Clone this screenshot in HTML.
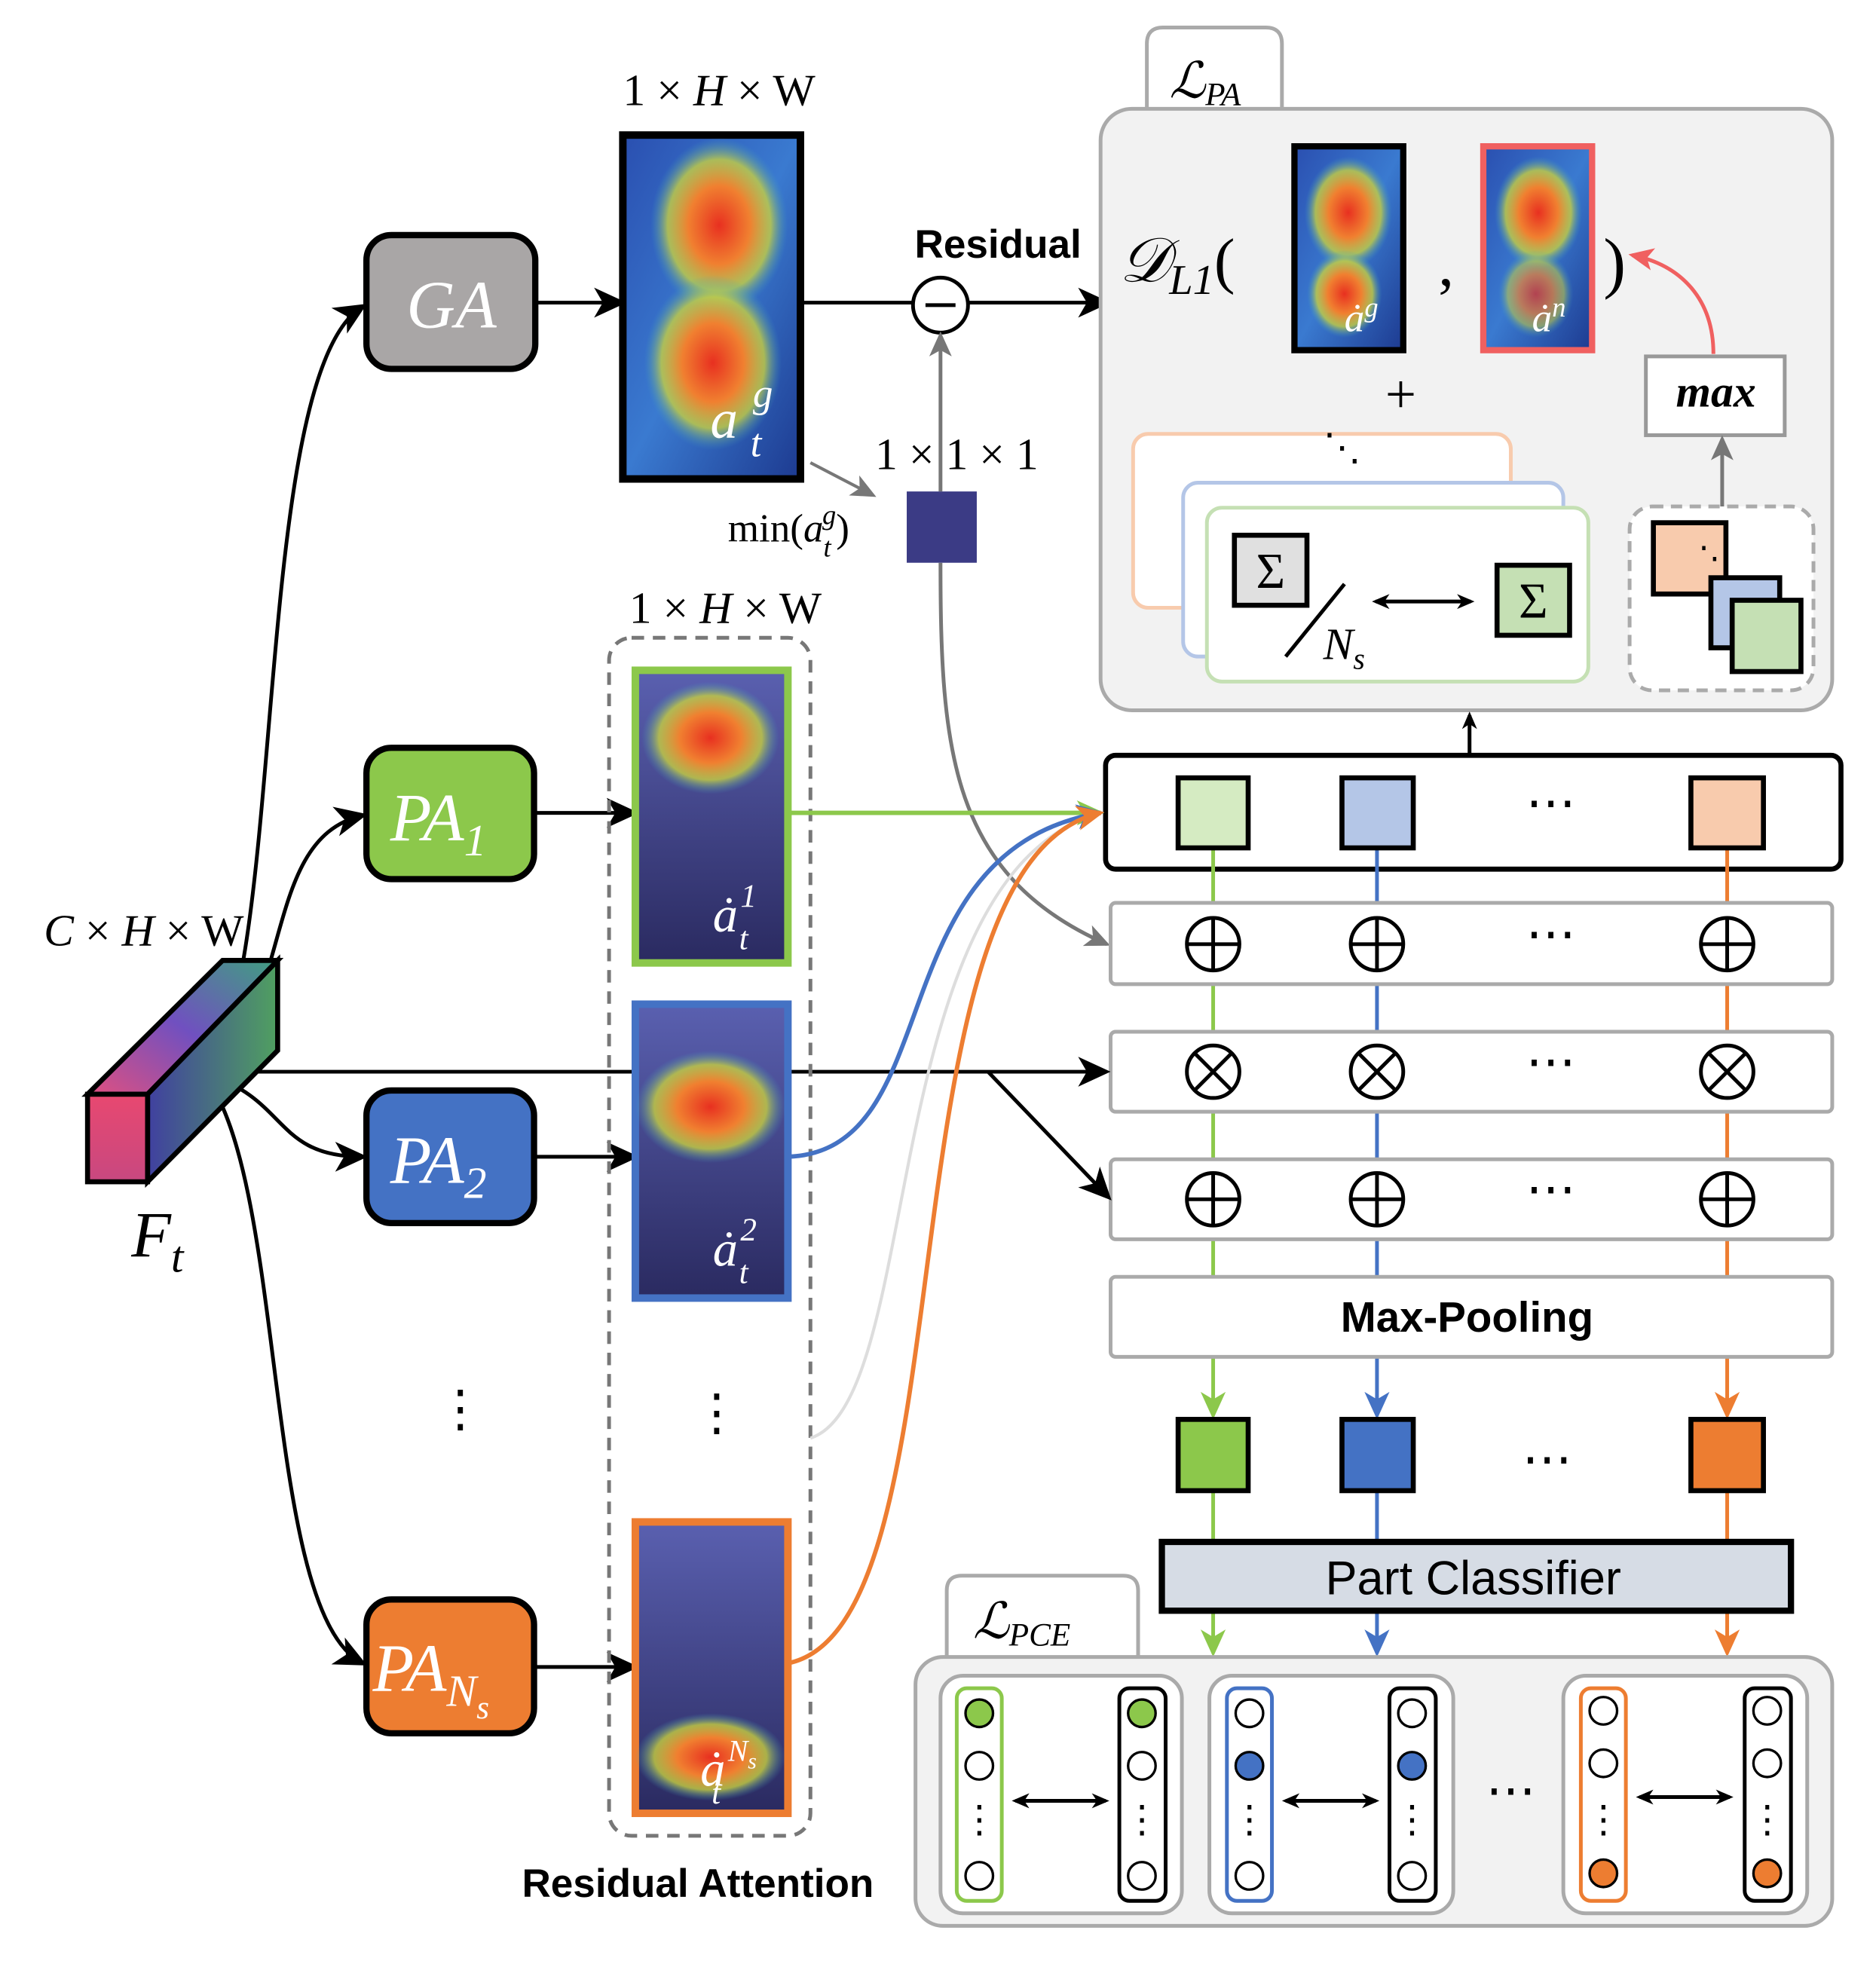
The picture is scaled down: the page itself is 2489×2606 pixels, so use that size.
<!DOCTYPE html>
<html><head><meta charset="utf-8">
<style>
html,body{margin:0;padding:0;background:#fff;}
svg{display:block;}
.s{font-family:"Liberation Serif",serif;}
.a{font-family:"Liberation Sans","DejaVu Sans",sans-serif;}
</style></head>
<body>
<svg width="2489" height="2606" viewBox="0 0 1500 1570.5" preserveAspectRatio="none" xmlns="http://www.w3.org/2000/svg">
<defs>
<marker id="ak" markerWidth="14" markerHeight="14" refX="11" refY="7" orient="auto-start-reverse" markerUnits="userSpaceOnUse" viewBox="0 0 14 14"><path d="M0,1 L14,7 L0,13 L4,7z" fill="#000"/></marker>
<marker id="akb" markerWidth="26" markerHeight="26" refX="22" refY="13" orient="auto" markerUnits="userSpaceOnUse" viewBox="0 0 26 26"><path d="M0,1 L26,13 L0,25 L7,13z" fill="#000"/></marker>
<marker id="ag" markerWidth="20" markerHeight="20" refX="17" refY="10" orient="auto" markerUnits="userSpaceOnUse" viewBox="0 0 20 20"><path d="M0,1 L20,10 L0,19 L5,10z" fill="#777"/></marker>
<marker id="ar" markerWidth="20" markerHeight="20" refX="17" refY="10" orient="auto" markerUnits="userSpaceOnUse" viewBox="0 0 20 20"><path d="M0,1 L20,10 L0,19 L5,10z" fill="#f06060"/></marker>
<marker id="agr" markerWidth="22" markerHeight="22" refX="19" refY="11" orient="auto" markerUnits="userSpaceOnUse" viewBox="0 0 22 22"><path d="M0,1 L22,11 L0,21 L6,11z" fill="#8cc84b"/></marker>
<marker id="abl" markerWidth="22" markerHeight="22" refX="19" refY="11" orient="auto" markerUnits="userSpaceOnUse" viewBox="0 0 22 22"><path d="M0,1 L22,11 L0,21 L6,11z" fill="#4472c4"/></marker>
<marker id="aor" markerWidth="22" markerHeight="22" refX="19" refY="11" orient="auto" markerUnits="userSpaceOnUse" viewBox="0 0 22 22"><path d="M0,1 L22,11 L0,21 L6,11z" fill="#ed7d31"/></marker>
<linearGradient id="hm" x1="0" y1="0" x2="1" y2="1"><stop offset="0" stop-color="#2a4fb0"/><stop offset="0.5" stop-color="#3a7ad0"/><stop offset="1" stop-color="#1d3a90"/></linearGradient>
<radialGradient id="hot"><stop offset="0" stop-color="#e83020"/><stop offset="0.45" stop-color="#f08030"/><stop offset="0.75" stop-color="#c8d040" stop-opacity="0.8"/><stop offset="1" stop-color="#40a0c0" stop-opacity="0"/></radialGradient>
<linearGradient id="pb" x1="0" y1="0" x2="0" y2="1"><stop offset="0" stop-color="#5a60b0"/><stop offset="1" stop-color="#2a2a60"/></linearGradient>
<linearGradient id="ff" x1="0" y1="0" x2="0" y2="1"><stop offset="0" stop-color="#e84870"/><stop offset="1" stop-color="#c84880"/></linearGradient>
<linearGradient id="ft" x1="0" y1="1" x2="1" y2="0"><stop offset="0" stop-color="#e05080"/><stop offset="0.5" stop-color="#7050c0"/><stop offset="1" stop-color="#40a080"/></linearGradient>
<linearGradient id="fs" x1="0" y1="0" x2="1" y2="0"><stop offset="0" stop-color="#4040a0"/><stop offset="1" stop-color="#50a060"/></linearGradient>
</defs>

<text x="575" y="84" class="s" font-size="36" text-anchor="middle">1 × <tspan font-style="italic">H</tspan> × W</text>
<text x="580" y="498" class="s" font-size="36" text-anchor="middle">1 × <tspan font-style="italic">H</tspan> × W</text>
<text x="115" y="756" class="s" font-size="36" text-anchor="middle"><tspan font-style="italic">C</tspan> × <tspan font-style="italic">H</tspan> × W</text>

<rect x="293" y="188" width="135" height="107" rx="20" fill="#a9a6a6" stroke="#000" stroke-width="5"/>
<text x="361" y="262" class="s" font-size="54" font-style="italic" fill="#fff" text-anchor="middle">GA</text>
<line x1="428" y1="242" x2="497" y2="242" stroke="#000" stroke-width="3" marker-end="url(#akb)"/>

<rect x="498" y="108" width="142" height="275" fill="url(#hm)" stroke="#000" stroke-width="6"/>
<ellipse cx="575" cy="180" rx="55" ry="70" fill="url(#hot)"/>
<ellipse cx="570" cy="290" rx="55" ry="70" fill="url(#hot)"/>
<text x="568" y="350" class="s" font-size="44" font-style="italic" fill="#fff">a</text>
<text x="602" y="325" class="s" font-size="32" font-style="italic" fill="#fff">g</text>
<text x="600" y="365" class="s" font-size="32" font-style="italic" fill="#fff">t</text>

<line x1="640" y1="242" x2="730" y2="242" stroke="#000" stroke-width="3"/>
<line x1="774" y1="242" x2="884" y2="242" stroke="#000" stroke-width="3" marker-end="url(#akb)"/>
<circle cx="752" cy="244" r="22" fill="#fff" stroke="#000" stroke-width="3"/>
<line x1="740" y1="244" x2="764" y2="244" stroke="#000" stroke-width="3"/>
<text x="798" y="206" class="a" font-size="32" font-weight="bold" text-anchor="middle">Residual</text>
<text x="765" y="375" class="s" font-size="36" text-anchor="middle">1 × 1 × 1</text>
<rect x="725" y="393" width="56" height="57" fill="#3b3b85"/>
<line x1="752" y1="393" x2="752" y2="268" stroke="#777" stroke-width="3" marker-end="url(#ag)"/>
<text x="582" y="433" class="s" font-size="32">min(<tspan font-style="italic">a</tspan><tspan font-size="22" font-style="italic" dy="12">t</tspan><tspan font-size="22" font-style="italic" dx="-7" dy="-26">g</tspan><tspan dy="14">)</tspan></text>
<line x1="648" y1="370" x2="698" y2="396" stroke="#777" stroke-width="2.5" marker-end="url(#ag)"/>
<path d="M752,450 C752,600 760,700 885,755" fill="none" stroke="#777" stroke-width="3" marker-end="url(#ag)"/>

<path d="M917,90 L917,35 Q917,22 930,22 L1012,22 Q1025,22 1025,35 L1025,90" fill="#fff" stroke="#aaa" stroke-width="3"/>
<text x="935" y="78" class="s" font-size="40" font-style="italic">ℒ<tspan font-size="26" dy="6">PA</tspan></text>
<rect x="880" y="87" width="585" height="481" rx="25" fill="#f2f2f2" stroke="#aaa" stroke-width="3"/>
<text x="895" y="225" class="s" font-size="50" font-style="italic">𝒟<tspan font-size="34" dy="10">L1</tspan><tspan dy="-10" font-style="normal">(</tspan></text>
<rect x="1035" y="117" width="87" height="163" fill="url(#hm)" stroke="#000" stroke-width="5"/>
<ellipse cx="1078" cy="170" rx="35" ry="45" fill="url(#hot)"/>
<ellipse cx="1075" cy="235" rx="30" ry="35" fill="url(#hot)"/>
<text x="1075" y="265" class="s" font-size="32" font-style="italic" fill="#fff">ȧ<tspan font-size="22" dy="-12">g</tspan></text>
<text x="1150" y="228" class="s" font-size="50">,</text>
<rect x="1186" y="117" width="87" height="163" fill="url(#hm)" stroke="#f06060" stroke-width="5"/>
<ellipse cx="1230" cy="170" rx="35" ry="45" fill="url(#hot)"/>
<ellipse cx="1228" cy="235" rx="30" ry="35" fill="url(#hot)" opacity="0.7"/>
<text x="1225" y="265" class="s" font-size="32" font-style="italic" fill="#fff">ȧ<tspan font-size="22" dy="-12">n</tspan></text>
<text x="1282" y="228" class="s" font-size="54">)</text>
<text x="1120" y="330" class="s" font-size="44" text-anchor="middle">+</text>
<rect x="1316" y="285" width="111" height="63" fill="#fff" stroke="#999" stroke-width="3"/>
<text x="1372" y="325" class="s" font-size="36" font-style="italic" font-weight="bold" text-anchor="middle">max</text>
<path d="M1370,283 C1370,240 1345,212 1305,204" fill="none" stroke="#f06060" stroke-width="3" marker-end="url(#ar)"/>
<line x1="1377" y1="405" x2="1377" y2="351" stroke="#777" stroke-width="3" marker-end="url(#ag)"/>

<rect x="906" y="347" width="302" height="139" rx="12" fill="#fff" stroke="#f8cbad" stroke-width="3"/>
<rect x="946" y="386" width="304" height="139" rx="12" fill="#fff" stroke="#b4c6e7" stroke-width="3"/>
<rect x="965" y="406" width="305" height="139" rx="12" fill="#fff" stroke="#c5e0b4" stroke-width="3"/>
<text x="1058" y="368" class="s" font-size="30">⋱</text>
<rect x="987" y="428" width="58" height="56" fill="#e0e0e0" stroke="#000" stroke-width="4"/>
<text x="1016" y="470" class="s" font-size="40" text-anchor="middle">Σ</text>
<line x1="1028" y1="525" x2="1075" y2="467" stroke="#000" stroke-width="3"/>
<text x="1058" y="527" class="s" font-size="36" font-style="italic">N<tspan font-size="24" dy="8">s</tspan></text>
<line x1="1100" y1="481" x2="1176" y2="481" stroke="#000" stroke-width="3" marker-end="url(#ak)" marker-start="url(#ak)"/>
<rect x="1197" y="452" width="58" height="56" fill="#c5e0b4" stroke="#000" stroke-width="4"/>
<text x="1226" y="494" class="s" font-size="40" text-anchor="middle">Σ</text>

<rect x="1303" y="405" width="147" height="147" rx="18" fill="#fff" stroke="#aaa" stroke-width="3" stroke-dasharray="9,6"/>
<rect x="1322" y="418" width="58" height="57" fill="#f8cbad" stroke="#000" stroke-width="4"/>
<rect x="1368" y="462" width="55" height="56" fill="#b4c6e7" stroke="#000" stroke-width="4"/>
<rect x="1385" y="480" width="55" height="57" fill="#c5e0b4" stroke="#000" stroke-width="4"/>
<text x="1358" y="455" class="s" font-size="26">⋱</text>

<line x1="1175" y1="603" x2="1175" y2="572" stroke="#000" stroke-width="3" marker-end="url(#ak)"/>

<rect x="884" y="604" width="588" height="91" rx="8" fill="#fff" stroke="#000" stroke-width="4"/>
<g stroke="#8cc84b" stroke-width="3"><line x1="970" y1="678" x2="970" y2="1132" marker-end="url(#agr)"/><line x1="970" y1="1192" x2="970" y2="1233"/><line x1="970" y1="1288" x2="970" y2="1322" marker-end="url(#agr)"/></g>
<g stroke="#4472c4" stroke-width="3"><line x1="1101" y1="678" x2="1101" y2="1132" marker-end="url(#abl)"/><line x1="1101" y1="1192" x2="1101" y2="1233"/><line x1="1101" y1="1288" x2="1101" y2="1322" marker-end="url(#abl)"/></g>
<g stroke="#ed7d31" stroke-width="3"><line x1="1381" y1="678" x2="1381" y2="1132" marker-end="url(#aor)"/><line x1="1381" y1="1192" x2="1381" y2="1233"/><line x1="1381" y1="1288" x2="1381" y2="1322" marker-end="url(#aor)"/></g>
<rect x="942" y="622" width="56" height="56" fill="#d5ebc2" stroke="#000" stroke-width="4"/>
<rect x="1073" y="622" width="57" height="56" fill="#b4c6e7" stroke="#000" stroke-width="4"/>
<rect x="1352" y="622" width="58" height="56" fill="#f8cbad" stroke="#000" stroke-width="4"/>
<text x="1240" y="655" class="s" font-size="40" text-anchor="middle">⋯</text>

<g fill="#fff" stroke="#aaa" stroke-width="3">
<rect x="888" y="722" width="577" height="65" rx="4"/>
<rect x="888" y="825" width="577" height="64" rx="4"/>
<rect x="888" y="927" width="577" height="64" rx="4"/>
<rect x="888" y="1021" width="577" height="64" rx="4"/>
</g>
<g font-size="40" class="s" text-anchor="middle">
<g stroke="#000" stroke-width="3" fill="none">
<circle cx="970" cy="755" r="21"/><circle cx="1101" cy="755" r="21"/><circle cx="1381" cy="755" r="21"/>
<path d="M949,755h42M970,734v42M1080,755h42M1101,734v42M1360,755h42M1381,734v42"/>
<circle cx="970" cy="857" r="21"/><circle cx="1101" cy="857" r="21"/><circle cx="1381" cy="857" r="21"/>
<path d="M955,842l30,30M985,842l-30,30M1086,842l30,30M1116,842l-30,30M1366,842l30,30M1396,842l-30,30"/>
<circle cx="970" cy="959" r="21"/><circle cx="1101" cy="959" r="21"/><circle cx="1381" cy="959" r="21"/>
<path d="M949,959h42M970,938v42M1080,959h42M1101,938v42M1360,959h42M1381,938v42"/>
</g>
<text x="1240" y="760">⋯</text><text x="1240" y="862">⋯</text><text x="1240" y="964">⋯</text>
</g>
<text x="1173" y="1065" class="a" font-size="34" font-weight="bold" text-anchor="middle">Max-Pooling</text>

<rect x="942" y="1135" width="56" height="57" fill="#8cc84b" stroke="#000" stroke-width="4"/>
<rect x="1073" y="1135" width="57" height="57" fill="#4472c4" stroke="#000" stroke-width="4"/>
<rect x="1352" y="1135" width="58" height="57" fill="#ed7d31" stroke="#000" stroke-width="4"/>
<text x="1237" y="1180" class="s" font-size="40" text-anchor="middle">⋯</text>

<rect x="929" y="1233" width="503" height="55" fill="#d6dce5" stroke="#000" stroke-width="5"/>
<text x="1178" y="1275" class="a" font-size="38" text-anchor="middle">Part Classifier</text>

<path d="M757,1325 L757,1272 Q757,1260 769,1260 L898,1260 Q910,1260 910,1272 L910,1325" fill="#fff" stroke="#aaa" stroke-width="3"/>
<text x="778" y="1310" class="s" font-size="40" font-style="italic">ℒ<tspan font-size="26" dy="6">PCE</tspan></text>
<rect x="732" y="1325" width="733" height="215" rx="22" fill="#f2f2f2" stroke="#aaa" stroke-width="3"/>
<g fill="#fff" stroke="#aaa" stroke-width="3">
<rect x="752" y="1340" width="193" height="190" rx="18"/>
<rect x="967" y="1340" width="195" height="190" rx="18"/>
<rect x="1250" y="1340" width="195" height="190" rx="18"/>
</g>
<g stroke-width="3" fill="none">
<rect x="765" y="1350" width="36" height="170" rx="8" stroke="#8cc84b"/>
<rect x="895" y="1350" width="37" height="170" rx="8" stroke="#000"/>
<rect x="981" y="1350" width="36" height="170" rx="8" stroke="#4472c4"/>
<rect x="1111" y="1350" width="37" height="170" rx="8" stroke="#000"/>
<rect x="1264" y="1350" width="36" height="170" rx="8" stroke="#ed7d31"/>
<rect x="1395" y="1350" width="37" height="170" rx="8" stroke="#000"/>
</g>
<g stroke="#000" stroke-width="2">
<circle cx="783" cy="1370" r="11" fill="#8cc84b"/><circle cx="783" cy="1412" r="11" fill="#fff"/><circle cx="783" cy="1500" r="11" fill="#fff"/>
<circle cx="913" cy="1370" r="11" fill="#8cc84b"/><circle cx="913" cy="1412" r="11" fill="#fff"/><circle cx="913" cy="1500" r="11" fill="#fff"/>
<circle cx="999" cy="1370" r="11" fill="#fff"/><circle cx="999" cy="1412" r="11" fill="#4472c4"/><circle cx="999" cy="1500" r="11" fill="#fff"/>
<circle cx="1129" cy="1370" r="11" fill="#fff"/><circle cx="1129" cy="1412" r="11" fill="#4472c4"/><circle cx="1129" cy="1500" r="11" fill="#fff"/>
<circle cx="1282" cy="1368" r="11" fill="#fff"/><circle cx="1282" cy="1410" r="11" fill="#fff"/><circle cx="1282" cy="1498" r="11" fill="#ed7d31"/>
<circle cx="1413" cy="1368" r="11" fill="#fff"/><circle cx="1413" cy="1410" r="11" fill="#fff"/><circle cx="1413" cy="1498" r="11" fill="#ed7d31"/>
</g>
<g class="s" font-size="30" text-anchor="middle">
<text x="783" y="1465">⋮</text><text x="913" y="1465">⋮</text><text x="999" y="1465">⋮</text><text x="1129" y="1465">⋮</text><text x="1282" y="1465">⋮</text><text x="1413" y="1465">⋮</text>
</g>
<g stroke="#000" stroke-width="3">
<line x1="812" y1="1440" x2="884" y2="1440" marker-start="url(#ak)" marker-end="url(#ak)"/>
<line x1="1028" y1="1440" x2="1100" y2="1440" marker-start="url(#ak)" marker-end="url(#ak)"/>
<line x1="1311" y1="1437" x2="1383" y2="1437" marker-start="url(#ak)" marker-end="url(#ak)"/>
</g>
<text x="1208" y="1445" class="s" font-size="40" text-anchor="middle">⋯</text>

<g fill="none" stroke="#000" stroke-width="3">
<path d="M165,857 C230,780 200,300 290,245" marker-end="url(#akb)"/>
<path d="M170,855 C235,800 210,670 290,652" marker-end="url(#akb)"/>
<path d="M168,860 C230,880 220,925 290,925" marker-end="url(#akb)"/>
<path d="M165,862 C230,950 210,1290 290,1330" marker-end="url(#akb)"/>
<line x1="165" y1="857" x2="884" y2="857" marker-end="url(#akb)"/>
<line x1="790" y1="857" x2="886" y2="957" marker-end="url(#akb)"/>
</g>

<polygon points="70,875 178,768 222,768 118,875" fill="url(#ft)" stroke="#000" stroke-width="4"/>
<polygon points="118,875 222,768 222,840 118,945" fill="url(#fs)" stroke="#000" stroke-width="4"/>
<rect x="70" y="875" width="48" height="70" fill="url(#ff)" stroke="#000" stroke-width="4"/>
<text x="105" y="1005" class="s" font-size="52" font-style="italic">F<tspan font-size="36" dy="12">t</tspan></text>

<rect x="293" y="598" width="134" height="105" rx="20" fill="#8cc84b" stroke="#000" stroke-width="5"/>
<text x="312" y="672" class="s" font-size="54" font-style="italic" fill="#fff">PA<tspan font-size="36" dy="12">1</tspan></text>
<rect x="293" y="872" width="134" height="106" rx="20" fill="#4472c4" stroke="#000" stroke-width="5"/>
<text x="312" y="946" class="s" font-size="54" font-style="italic" fill="#fff">PA<tspan font-size="36" dy="12">2</tspan></text>
<rect x="293" y="1279" width="134" height="107" rx="20" fill="#ed7d31" stroke="#000" stroke-width="5"/>
<text x="298" y="1352" class="s" font-size="54" font-style="italic" fill="#fff">PA<tspan font-size="36" dy="12">N</tspan><tspan font-size="26" dy="10">s</tspan></text>
<text x="368" y="1140" class="s" font-size="40" text-anchor="middle">⋮</text>
<g stroke="#000" stroke-width="3">
<line x1="427" y1="650" x2="507" y2="650" marker-end="url(#akb)"/>
<line x1="427" y1="925" x2="507" y2="925" marker-end="url(#akb)"/>
<line x1="427" y1="1333" x2="507" y2="1333" marker-end="url(#akb)"/>
</g>

<rect x="487" y="510" width="161" height="958" rx="18" fill="none" stroke="#777" stroke-width="3" stroke-dasharray="10,7"/>
<text x="573" y="1143" class="s" font-size="40" text-anchor="middle">⋮</text>
<text x="558" y="1517" class="a" font-size="32" font-weight="bold" text-anchor="middle">Residual Attention</text>

<rect x="508" y="536" width="122" height="234" fill="url(#pb)" stroke="#8cc84b" stroke-width="6"/>
<ellipse cx="568" cy="590" rx="55" ry="45" fill="url(#hot)"/>
<text x="570" y="745" class="s" font-size="40" font-style="italic" fill="#fff">ȧ<tspan font-size="26" dx="2" dy="-20">1</tspan><tspan font-size="26" dx="-14" dy="34">t</tspan></text>
<rect x="508" y="803" width="122" height="235" fill="url(#pb)" stroke="#4472c4" stroke-width="6"/>
<ellipse cx="568" cy="885" rx="60" ry="45" fill="url(#hot)"/>
<text x="570" y="1012" class="s" font-size="40" font-style="italic" fill="#fff">ȧ<tspan font-size="26" dx="2" dy="-20">2</tspan><tspan font-size="26" dx="-14" dy="34">t</tspan></text>
<rect x="508" y="1217" width="122" height="233" fill="url(#pb)" stroke="#ed7d31" stroke-width="6"/>
<ellipse cx="568" cy="1405" rx="60" ry="35" fill="url(#hot)"/>
<text x="560" y="1428" class="s" font-size="40" font-style="italic" fill="#fff">ȧ<tspan font-size="24" dx="2" dy="-20">N</tspan><tspan font-size="18" dy="6">s</tspan><tspan font-size="26" dx="-36" dy="28">t</tspan></text>

<line x1="630" y1="650" x2="880" y2="650" stroke="#8cc84b" stroke-width="3.5" marker-end="url(#agr)"/>
<path d="M648,1150 C740,1120 700,700 880,650" fill="none" stroke="#ddd" stroke-width="2.5"/>
<path d="M630,925 C760,920 700,680 880,650" fill="none" stroke="#4472c4" stroke-width="3.5" marker-end="url(#abl)"/>
<path d="M630,1330 C780,1300 700,690 880,650" fill="none" stroke="#ed7d31" stroke-width="3.5" marker-end="url(#aor)"/>
</svg>
</body></html>
